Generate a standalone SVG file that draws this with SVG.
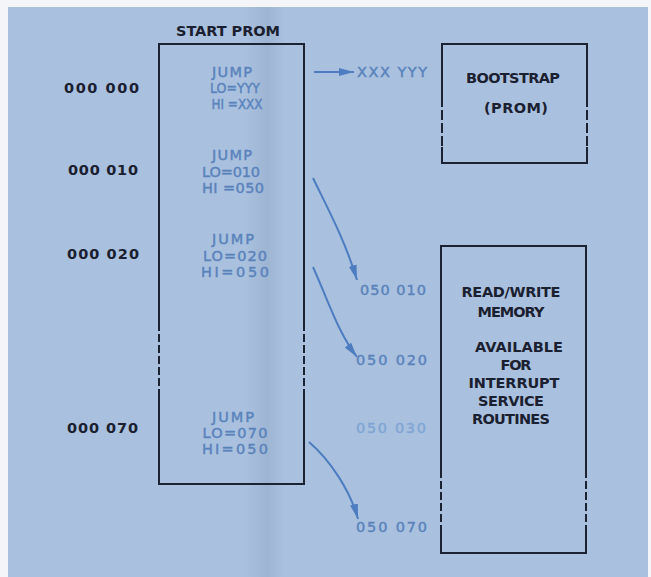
<svg xmlns="http://www.w3.org/2000/svg" width="651" height="577" viewBox="0 0 651 577">
<defs>
<linearGradient id="band" x1="0" y1="0" x2="1" y2="0">
<stop offset="0" stop-color="#8fa6c4" stop-opacity="0"/>
<stop offset="0.55" stop-color="#8fa6c4" stop-opacity="0.45"/>
<stop offset="1" stop-color="#8fa6c4" stop-opacity="0"/>
</linearGradient>
<marker id="ah" markerUnits="userSpaceOnUse" markerWidth="16" markerHeight="10" refX="15" refY="4" orient="auto">
<path d="M0,0 L15,4 L0,8 Z" fill="#4d7dc0"/>
</marker>
</defs>
<style>
.blk{font-family:"DejaVu Sans","Liberation Sans",Arial,sans-serif;font-weight:bold;font-size:14.5px;fill:#1b2030}
.blu{font-family:"DejaVu Sans","Liberation Sans",Arial,sans-serif;font-size:14.5px;fill:#5b83bb;stroke:#5b83bb;stroke-width:0.45}
.pale{fill:#80a5d4;stroke:#80a5d4}
.box{fill:none;stroke:#1b2232;stroke-width:2}
.dash{fill:none;stroke:#1b2232;stroke-width:2;stroke-dasharray:8,3}
.arr{fill:none;stroke:#4d7dc0;stroke-width:2}
</style>
<rect x="0" y="0" width="651" height="577" fill="#f3f5f8"/>
<rect x="8" y="7" width="640" height="570" fill="#a9c1df"/>
<rect x="245" y="7" width="40" height="570" fill="url(#band)"/>

<g id="start-prom">
<text class="blk" x="228" y="36" text-anchor="middle" textLength="104" lengthAdjust="spacing">START  PROM</text>
<path class="box" d="M159,323 V44 H304 V323 M159,397 V484 H304 V397"/>
<path class="dash" d="M159,323 V397 M304,323 V397"/>
<text class="blu" x="232" y="77" text-anchor="middle" textLength="40" lengthAdjust="spacing">JUMP</text>
<text class="blu" x="235" y="93" text-anchor="middle" textLength="50" lengthAdjust="spacingAndGlyphs">LO=YYY</text>
<text class="blu" x="237" y="109" text-anchor="middle" textLength="51" lengthAdjust="spacingAndGlyphs">HI =XXX</text>
<text class="blu" x="232" y="160" text-anchor="middle" textLength="40" lengthAdjust="spacing">JUMP</text>
<text class="blu" x="231" y="177" text-anchor="middle" textLength="58" lengthAdjust="spacing">LO=010</text>
<text class="blu" x="233" y="193" text-anchor="middle" textLength="62" lengthAdjust="spacing">HI =050</text>
<text class="blu" x="233" y="244" text-anchor="middle" textLength="42" lengthAdjust="spacing">JUMP</text>
<text class="blu" x="235" y="261" text-anchor="middle" textLength="64" lengthAdjust="spacing">LO=020</text>
<text class="blu" x="235" y="277" text-anchor="middle" textLength="68" lengthAdjust="spacing">HI=050</text>
<text class="blu" x="233" y="422" text-anchor="middle" textLength="42" lengthAdjust="spacing">JUMP</text>
<text class="blu" x="235" y="438" text-anchor="middle" textLength="65" lengthAdjust="spacing">LO=070</text>
<text class="blu" x="235" y="454" text-anchor="middle" textLength="66" lengthAdjust="spacing">HI=050</text>
</g>

<g id="addresses">
<text class="blk" x="139" y="93" text-anchor="end" textLength="75" lengthAdjust="spacing">000 000</text>
<text class="blk" x="138" y="175" text-anchor="end" textLength="70" lengthAdjust="spacing">000 010</text>
<text class="blk" x="139" y="259" text-anchor="end" textLength="72" lengthAdjust="spacing">000 020</text>
<text class="blk" x="138" y="433" text-anchor="end" textLength="71" lengthAdjust="spacing">000 070</text>
</g>

<g id="bootstrap">
<path class="box" d="M442,97 V44 H587 V97 M442,147 V163 H587 V147"/>
<path class="dash" d="M442,97 V147 M587,97 V147" style="stroke-dasharray:10,3"/>
<text class="blk" x="513" y="83" text-anchor="middle" textLength="94" lengthAdjust="spacing">BOOTSTRAP</text>
<text class="blk" x="516" y="113" text-anchor="middle" textLength="64" lengthAdjust="spacing">(PROM)</text>
</g>

<g id="rw-memory">
<path class="box" d="M441,470 V246 H586 V470 M441,527 V553 H586 V527"/>
<path class="dash" d="M441,470 V527 M586,470 V527"/>
<text class="blk" x="511" y="297" text-anchor="middle" textLength="99" lengthAdjust="spacing">READ/WRITE</text>
<text class="blk" x="511" y="317" text-anchor="middle" textLength="67" lengthAdjust="spacing">MEMORY</text>
<text class="blk" x="519" y="352" text-anchor="middle" textLength="88" lengthAdjust="spacing">AVAILABLE</text>
<text class="blk" x="516" y="370" text-anchor="middle" textLength="31" lengthAdjust="spacing">FOR</text>
<text class="blk" x="514" y="388" text-anchor="middle" textLength="91" lengthAdjust="spacing">INTERRUPT</text>
<text class="blk" x="511" y="406" text-anchor="middle" textLength="66" lengthAdjust="spacing">SERVICE</text>
<text class="blk" x="511" y="424" text-anchor="middle" textLength="78" lengthAdjust="spacing">ROUTINES</text>
</g>

<g id="targets">
<text class="blu" x="357" y="77" textLength="70" lengthAdjust="spacing">XXX YYY</text>
<text class="blu" x="360" y="295" textLength="66" lengthAdjust="spacing">050 010</text>
<text class="blu" x="356" y="365" textLength="71" lengthAdjust="spacing">050 020</text>
<text class="blu pale" x="356" y="433" textLength="70" lengthAdjust="spacing">050 030</text>
<text class="blu" x="356" y="532" textLength="71" lengthAdjust="spacing">050 070</text>
</g>

<g id="connectors">
<path class="arr" d="M314,72 H354" marker-end="url(#ah)"/>
<path class="arr" d="M313,178 C326,205 345,240 357,280" marker-end="url(#ah)"/>
<path class="arr" d="M313,267 C330,305 338,332 357,357" marker-end="url(#ah)"/>
<path class="arr" d="M309,442 C330,460 350,490 358,519" marker-end="url(#ah)"/>
</g>
</svg>
